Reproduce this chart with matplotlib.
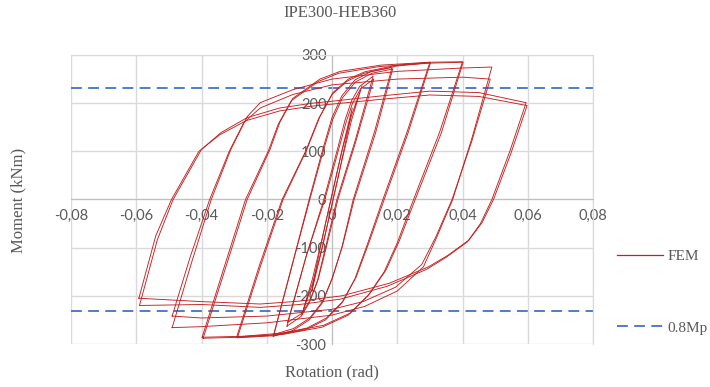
import matplotlib.pyplot as plt

# --- data (rotation in rad, moment in kNm) ---
mp08 = 232  # 0.8 Mp

# small, almost elastic cycles
rot_e1 = [-0.0062, -0.0035, -0.001, 0.002, 0.0045, 0.0062, 0.0035, 0.001, -0.002, -0.0045, -0.0062]
mom_e1 = [-190, -115, -40, 50, 130, 190, 115, 40, -50, -130, -190]
rot_e2 = [-0.0092, -0.006, -0.003, 0.0, 0.003, 0.006, 0.0092, 0.006, 0.003, 0.0, -0.003, -0.006, -0.0092]
mom_e2 = [-238, -165, -80, 10, 100, 175, 236, 165, 80, -10, -100, -175, -238]

# +-0.015 cycles
rot_15a = [-0.0138, -0.008, -0.0025, 0.0015, 0.004, 0.006, 0.0085, 0.0126,
           0.007, 0.0015, -0.002, -0.0045, -0.007, -0.0095, -0.0138]
mom_15a = [-263, -120, 0, 100, 165, 205, 235, 256, 120, 0, -100, -170, -215, -243, -263]
rot_15b = [-0.0136, -0.0078, -0.0022, 0.0018, 0.0043, 0.0063, 0.0088, 0.0128,
           0.0072, 0.0018, -0.0017, -0.0042, -0.0068, -0.0093, -0.0136]
mom_15b = [-255, -115, 0, 98, 160, 200, 230, 250, 118, 0, -98, -165, -210, -237, -255]

# +-0.02 cycles
rot_20a = [-0.018, -0.012, -0.007, -0.003, 0.0, 0.003, 0.007, 0.012, 0.0184,
           0.013, 0.0065, 0.003, 0.0, -0.003, -0.007, -0.012, -0.018]
mom_20a = [-284, -130, 0, 100, 170, 215, 248, 266, 274, 140, 0, -100, -165, -215, -250, -272, -284]
rot_20b = [-0.0178, -0.0118, -0.0068, -0.0028, 0.0002, 0.0032, 0.0072, 0.0122, 0.0186,
           0.0133, 0.0068, 0.0032, 0.0002, -0.0028, -0.0068, -0.0118, -0.0178]
mom_20b = [-280, -126, 0, 98, 166, 211, 244, 262, 271, 137, 0, -97, -161, -211, -246, -268, -280]

# +-0.03 cycles
rot_30a = [-0.029, -0.022, -0.015, -0.0077, -0.0037, 0.0003, 0.005, 0.010, 0.020, 0.030,
           0.023, 0.0156, 0.011, 0.007, 0.003, -0.002, -0.008, -0.018, -0.029]
mom_30a = [-287, -140, 0, 104, 172, 222, 250, 265, 279, 285,
           140, 0, -90, -165, -215, -250, -270, -283, -287]
rot_30b = [-0.0292, -0.0223, -0.0153, -0.0081, -0.0041, 0.0, 0.0047, 0.0098, 0.0198, 0.0302,
           0.0233, 0.016, 0.0114, 0.0074, 0.0034, -0.0017, -0.0077, -0.0177, -0.0292]
mom_30b = [-285, -138, 0, 100, 168, 218, 246, 262, 277, 284,
           138, 0, -88, -161, -211, -246, -267, -281, -285]

# +-0.04 cycles
rot_40a = [-0.0395, -0.033, -0.026, -0.019, -0.016, -0.012, -0.0037, 0.0025, 0.015, 0.030, 0.040,
           0.033, 0.025, 0.020, 0.016, 0.011, 0.005, -0.003, -0.015, -0.028, -0.0395]
mom_40a = [-288, -150, 0, 104, 160, 210, 250, 266, 279, 285, 286,
           140, 0, -90, -150, -200, -240, -265, -280, -286, -288]
rot_40b = [-0.0398, -0.0334, -0.0265, -0.0195, -0.0165, -0.0125, -0.0042, 0.002, 0.0145, 0.0295, 0.0402,
           0.0335, 0.0255, 0.0205, 0.0165, 0.0115, 0.0055, -0.0025, -0.0145, -0.0275, -0.0398]
mom_40b = [-286, -148, 0, 101, 156, 205, 245, 262, 276, 283, 285,
           138, 0, -88, -147, -196, -236, -261, -277, -284, -286]

# +-0.05 cycles
rot_50a = [-0.049, -0.043, -0.037, -0.031, -0.026, -0.022, -0.012, 0.0, 0.02, 0.04, 0.049,
           0.043, 0.037, 0.032, 0.028, 0.020, 0.010, 0.0, -0.02, -0.04, -0.049]
mom_50a = [-266, -130, 0, 104, 172, 201, 228, 250, 266, 273, 275,
           130, 0, -80, -140, -190, -222, -240, -256, -264, -266]
rot_50b = [-0.049, -0.0435, -0.0375, -0.0315, -0.027, -0.022, -0.012, 0.0, 0.02, 0.04, 0.0485,
           0.0428, 0.0368, 0.0318, 0.0275, 0.0195, 0.0095, 0.0, -0.02, -0.04, -0.049]
mom_50b = [-242, -120, 0, 100, 160, 190, 218, 238, 250, 254, 250,
           120, 0, -78, -135, -182, -212, -228, -242, -246, -242]

# +-0.06 cycles
rot_60a = [-0.059, -0.0535, -0.0487, -0.040, -0.034, -0.026, -0.016, -0.006, 0.0, 0.015, 0.030, 0.045, 0.0595,
           0.0545, 0.049, 0.0455, 0.0415, 0.035, 0.029, 0.017, 0.0025, -0.010, -0.022, -0.040, -0.059]
mom_60a = [-220, -83, 0, 104, 139, 170, 190, 200, 204, 215, 225, 222, 201,
           100, 0, -50, -88, -120, -145, -180, -207, -218, -224, -218, -220]
rot_60b = [-0.0592, -0.054, -0.0492, -0.0408, -0.0345, -0.0262, -0.016, -0.006, 0.0, 0.015, 0.030, 0.045, 0.0598,
           0.0548, 0.0495, 0.046, 0.042, 0.0355, 0.0295, 0.0175, 0.003, -0.010, -0.022, -0.040, -0.0592]
mom_60b = [-205, -75, 0, 100, 134, 164, 184, 194, 198, 208, 217, 214, 195,
           95, 0, -48, -84, -116, -140, -174, -200, -211, -217, -212, -205]

x_ticks = [-0.08, -0.06, -0.04, -0.02, 0, 0.02, 0.04, 0.06, 0.08]
x_labels = ['-0,08', '-0,06', '-0,04', '-0,02', '0', '0,02', '0,04', '0,06', '0,08']
y_ticks = [-300, -200, -100, 0, 100, 200, 300]
y_labels = ['-300', '-200', '-100', '0', '100', '200', '300']

loops = [(rot_e1, mom_e1), (rot_e2, mom_e2), (rot_15a, mom_15a), (rot_15b, mom_15b),
         (rot_20a, mom_20a), (rot_20b, mom_20b), (rot_30a, mom_30a), (rot_30b, mom_30b),
         (rot_40a, mom_40a), (rot_40b, mom_40b), (rot_50a, mom_50a), (rot_50b, mom_50b),
         (rot_60a, mom_60a), (rot_60b, mom_60b)]

# --- plot ---
serif = 'Liberation Serif'
fig = plt.figure(figsize=(7.1, 3.87), dpi=100)
ax = fig.add_axes([71 / 710, 1 - 344 / 387, 522 / 710, 289 / 387])

red = '#c42020'
for i, (r, m) in enumerate(loops):
    ax.plot(r, m, color=red, lw=0.65, label='FEM' if i == 0 else None, zorder=3)

blue = '#4472c4'
ax.axhline(mp08, color=blue, lw=1.3, ls=(0, (6, 3.5)), label='0.8Mp', zorder=2)
ax.axhline(-mp08, color=blue, lw=1.3, ls=(0, (6, 3.5)), zorder=2)

ax.set_xlim(-0.08, 0.08)
ax.set_ylim(-300, 300)
ax.set_xticks(x_ticks)
ax.set_xticklabels(x_labels)
ax.set_yticks(y_ticks)
ax.set_yticklabels(y_labels)
ax.grid(True, color='#d9d9d9', lw=1)
ax.set_axisbelow(True)

ax.spines['left'].set_position('zero')
ax.spines['bottom'].set_position('zero')
ax.spines['left'].set_color('#bfbfbf')
ax.spines['bottom'].set_color('#bfbfbf')
ax.spines['top'].set_color('#d9d9d9')
ax.spines['right'].set_color('#d9d9d9')
ax.tick_params(length=0, labelsize=10.5, labelcolor='#595959')
ax.tick_params(axis='x', pad=7)
ax.tick_params(axis='y', pad=4)
for lab in ax.get_xticklabels() + ax.get_yticklabels():
    lab.set_fontfamily('Lato')

fig.text(340 / 710, 1 - 13 / 387, 'IPE300-HEB360', ha='center', va='center',
         family=serif, fontsize=12, color='#595959')
fig.text(18 / 710, 1 - 200 / 387, 'Moment (kNm)', ha='center', va='center', rotation=90,
         family=serif, fontsize=12, color='#595959')
fig.text(332 / 710, 1 - 372 / 387, 'Rotation (rad)', ha='center', va='center',
         family=serif, fontsize=12, color='#595959')

leg = ax.legend(loc='center left', bbox_to_anchor=(1.02, 0.18), frameon=False,
                prop={'family': serif, 'size': 11}, handlelength=3, handletextpad=0.3,
                labelspacing=3.8)
for t in leg.get_texts():
    t.set_color('#595959')
leg.get_lines()[0].set_linewidth(0.9)

fig.savefig('out.png', dpi=100)
